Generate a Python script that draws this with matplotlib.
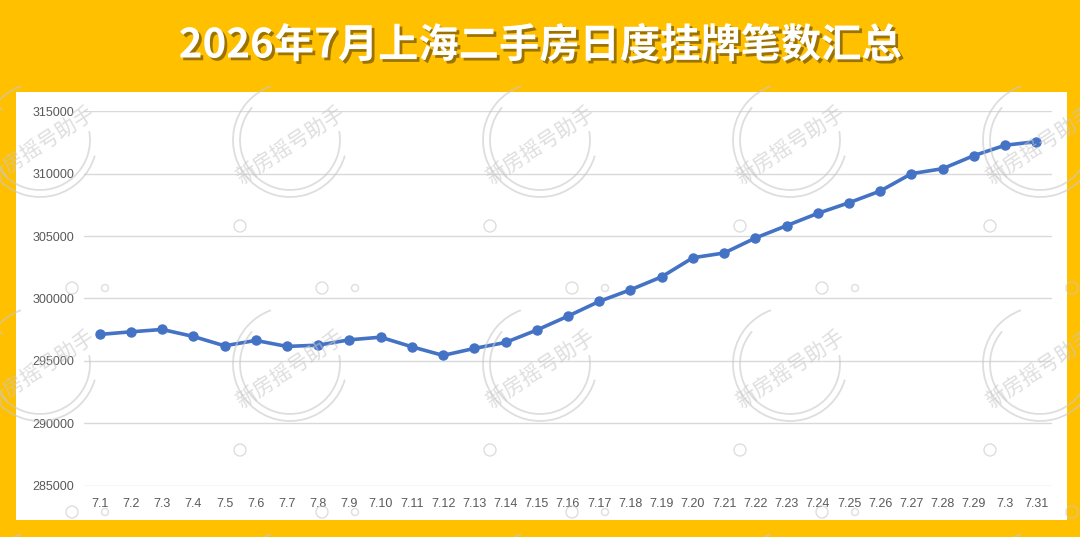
import numpy as np
import matplotlib.pyplot as plt
import matplotlib.patheffects as pe
from matplotlib.patches import Rectangle, Ellipse, Arc

plt.rcParams['font.family'] = ['Liberation Sans', 'Noto Sans CJK SC', 'DejaVu Sans']

# 日期标签 (原图中 7.30 显示为 7.3)
days = ['7.1', '7.2', '7.3', '7.4', '7.5', '7.6', '7.7', '7.8', '7.9', '7.10',
        '7.11', '7.12', '7.13', '7.14', '7.15', '7.16', '7.17', '7.18', '7.19', '7.20',
        '7.21', '7.22', '7.23', '7.24', '7.25', '7.26', '7.27', '7.28', '7.29', '7.3',
        '7.31']
# 每日挂牌笔数
listings = [297110, 297320, 297510, 296950, 296200, 296630, 296150, 296250, 296680, 296890,
            296120, 295430, 295990, 296470, 297460, 298580, 299760, 300690, 301730, 303260,
            303640, 304840, 305830, 306820, 307670, 308610, 310000, 310400, 311450, 312280,
            312570]
yticks = [285000, 290000, 295000, 300000, 305000, 310000, 315000]

W, H = 1080, 537
fig = plt.figure(figsize=(W / 100, H / 100), dpi=100)
fig.patch.set_facecolor('#FFC000')

# 白色面板
fig.add_artist(Rectangle((16 / W, 1 - 520 / H), (1067 - 16) / W, (520 - 92) / H,
                         transform=fig.transFigure, facecolor='white', edgecolor='none', zorder=0))

ax = fig.add_axes([84 / W, 1 - 485.5 / H, 968 / W, (485.5 - 111.3) / H])
ax.set_facecolor('none')
x = np.arange(len(days))
ax.plot(x, listings, color='#4472C4', lw=2.6, marker='o', ms=6.5, zorder=3)
ax.set_xlim(-0.5, len(days) - 0.5)
ax.set_ylim(yticks[0], yticks[-1])
ax.set_yticks(yticks)
ax.set_yticklabels([str(v) for v in yticks])
ax.set_xticks(x)
ax.set_xticklabels(days)
ax.grid(axis='y', color='#d9d9d9', lw=1)
ax.set_axisbelow(True)
for s in ax.spines.values():
    s.set_visible(False)
ax.tick_params(length=0, labelsize=9, colors='#595959', pad=7)
ax.tick_params(axis='x', pad=9)

# 标题
fig.text(0.5, 1 - 46 / H, '2026年7月上海二手房日度挂牌笔数汇总', ha='center', va='center',
         color='white', fontsize=29, fontweight='bold', family=['Noto Sans CJK SC', 'DejaVu Sans'],
         path_effects=[pe.withSimplePatchShadow(offset=(2, -2), shadow_rgbFace='#5a4000', alpha=0.6)])

# 水印
wm = '#c8c8c8'
for row in range(3):
    oy = row * 224
    for col in range(5):
        ox = col * 250
        cx, cy = 40 + ox, 140 + oy
        for r, a1, a2 in [(57, 100, 330), (50, 120, 20)]:
            fig.add_artist(Arc((cx / W, 1 - cy / H), 2 * r / W, 2 * r / H, theta1=a1, theta2=a2,
                               transform=fig.transFigure, color=wm, lw=1.3, alpha=0.6, zorder=5))
        fig.text(cx / W, 1 - (cy + 5) / H, '新房摇号助手', rotation=33, ha='center', va='center',
                 fontsize=15, color=wm, alpha=0.6, family=['Noto Sans CJK SC'], zorder=5)
        for px, py, rr in [(240, 226, 6), (72, 288, 6), (105, 288, 3.5)]:
            fig.add_artist(Ellipse(((px + ox) / W, 1 - (py + oy) / H), 2 * rr / W, 2 * rr / H,
                                   transform=fig.transFigure, fill=False, ec=wm, lw=1, alpha=0.6, zorder=5))

fig.savefig('out.png', dpi=100, facecolor=fig.get_facecolor())
